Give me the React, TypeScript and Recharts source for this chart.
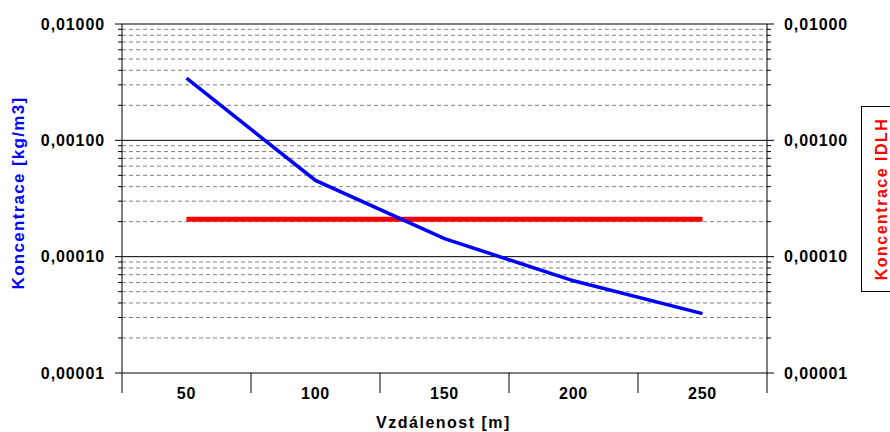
import React from 'react';
import { LineChart, Line, XAxis, YAxis, CartesianGrid, Label } from 'recharts';

const categories = [50, 100, 150, 200, 250];
const concentration = [0.00342, 0.000452, 0.000143, 0.000062, 0.0000324];
const idlhValues = [0.00021, 0.00021, 0.00021, 0.00021, 0.00021];
const yMajorTicks = [0.00001, 0.0001, 0.001, 0.01];
const yMinorTicks = [
  0.00002, 0.00003, 0.00004, 0.00005, 0.00006, 0.00007, 0.00008, 0.00009,
  0.0002, 0.0003, 0.0004, 0.0005, 0.0006, 0.0007, 0.0008, 0.0009,
  0.002, 0.003, 0.004, 0.005, 0.006, 0.007, 0.008, 0.009,
];
const xTicks = [25, 50, 75, 100, 125, 150, 175, 200, 225, 250, 275];
const xBoundaryTicks = [25, 75, 125, 175, 225, 275];
const xLabels = ['50', '100', '150', '200', '250'];
const yTickLabels = ['0,00001', '0,00010', '0,00100', '0,01000'];
const leftTitle = 'Koncentrace [kg/m3]';
const xTitle = 'Vzdálenost [m]';
const legendTitle = 'Koncentrace IDLH';

const data = categories.map((c, i) => ({ x: c, conc: concentration[i], idlh: idlhValues[i] }));
const allYTicks = [...yMajorTicks, ...yMinorTicks].sort((a, b) => a - b);

const FONT = '"Liberation Sans", Arial, sans-serif';

const isMajor = (v: number) => yMajorTicks.some((m) => Math.abs(m - v) / m < 1e-6);

const YTick = (props: any) => {
  const { x, y, payload, side } = props;
  const v = payload.value as number;
  const major = isMajor(v);
  const len = major ? 7 : 4;
  const dir = side === 'left' ? -1 : 1;
  const idx = yMajorTicks.findIndex((m) => Math.abs(m - v) / m < 1e-6);
  return (
    <g>
      <line x1={x} x2={x + dir * len} y1={y} y2={y} stroke="#000" strokeWidth={1} />
      {major && (
        <text
          x={x + dir * 17}
          y={y}
          dy="0.36em"
          textAnchor={side === 'left' ? 'end' : 'start'}
          fontFamily={FONT}
          fontWeight="bold"
          fontSize={16}
          letterSpacing={0.9}
          fill="#000"
        >
          {yTickLabels[idx]}
        </text>
      )}
    </g>
  );
};

const XTick = (props: any) => {
  const { x, y, payload } = props;
  const v = payload.value as number;
  if (xBoundaryTicks.includes(v)) {
    return <line x1={x} x2={x} y1={y} y2={y + 20} stroke="#000" strokeWidth={1} />;
  }
  const idx = categories.indexOf(v);
  return (
    <text
      x={x}
      y={y + 20}
      dy="0.36em"
      textAnchor="middle"
      fontFamily={FONT}
      fontWeight="bold"
      fontSize={16}
      letterSpacing={0.8}
      fill="#000"
    >
      {xLabels[idx]}
    </text>
  );
};

export default function App() {
  return (
    <div style={{ position: 'absolute', left: 0, top: 0, width: 890, height: 432, background: '#fff', overflow: 'hidden' }}>
      <LineChart width={890} height={432} data={data} margin={{ top: 24, right: 0, bottom: 0, left: 0 }}>
        <CartesianGrid
          yAxisId="left"
          vertical={false}
          horizontalValues={yMinorTicks}
          stroke="#808080"
          strokeDasharray="4 3"
        />
        <CartesianGrid
          yAxisId="left"
          vertical={false}
          horizontalValues={[0.0001, 0.001, 0.01]}
          stroke="#000"
        />
        <XAxis
          dataKey="x"
          type="number"
          domain={[25, 275]}
          ticks={xTicks}
          interval={0}
          height={59}
          tickSize={0}
          tickMargin={0}
          tickLine={false}
          axisLine={{ stroke: '#000' }}
          tick={<XTick />}
        >
          <Label
            content={(p: any) => {
              const vb = p.viewBox || {};
              return (
                <text
                  x={vb.x + vb.width / 2 - 1}
                  y={422}
                  dy="0.36em"
                  textAnchor="middle"
                  fontFamily={FONT}
                  fontWeight="bold"
                  fontSize={16}
                  letterSpacing={1.5}
                  fill="#000"
                >
                  {xTitle}
                </text>
              );
            }}
          />
        </XAxis>
        <YAxis
          yAxisId="left"
          orientation="left"
          type="number"
          scale="log"
          domain={[0.00001, 0.01]}
          allowDataOverflow
          ticks={allYTicks}
          interval={0}
          width={122}
          tickSize={0}
          tickMargin={0}
          tickLine={false}
          axisLine={{ stroke: '#000' }}
          tick={<YTick side="left" />}
        >
          <Label
            content={() => (
              <text
                x={18}
                y={193}
                transform="rotate(-90, 18, 193)"
                dy="0.36em"
                textAnchor="middle"
                fontFamily={FONT}
                fontWeight="bold"
                fontSize={17}
                letterSpacing={1.3}
                fill="#0000ff"
              >
                {leftTitle}
              </text>
            )}
          />
        </YAxis>
        <YAxis
          yAxisId="right"
          orientation="right"
          type="number"
          scale="log"
          domain={[0.00001, 0.01]}
          allowDataOverflow
          ticks={allYTicks}
          interval={0}
          width={123}
          tickSize={0}
          tickMargin={0}
          tickLine={false}
          axisLine={{ stroke: '#000' }}
          tick={<YTick side="right" />}
        />
        <Line
          yAxisId="left"
          type="linear"
          dataKey="idlh"
          stroke="#ff0000"
          strokeWidth={5}
          dot={false}
          activeDot={false}
          isAnimationActive={false}
          strokeLinecap="butt"
        />
        <Line
          yAxisId="left"
          type="linear"
          dataKey="conc"
          stroke="#0000ff"
          strokeWidth={3.5}
          dot={false}
          activeDot={false}
          isAnimationActive={false}
        />
      </LineChart>
      <div
        style={{
          position: 'absolute',
          left: 861,
          top: 106,
          width: 40,
          height: 186,
          border: '1px solid #000',
          background: '#fff',
          boxSizing: 'border-box',
        }}
      >
        <svg width={28} height={186} style={{ position: 'absolute', left: 0, top: 0 }}>
          <text
            x={19}
            y={92}
            transform="rotate(-90, 19, 92)"
            dy="0.36em"
            textAnchor="middle"
            fontFamily={FONT}
            fontWeight="bold"
            fontSize={16}
            letterSpacing={1.5}
            fill="#ff0000"
          >
            {legendTitle}
          </text>
        </svg>
      </div>
    </div>
  );
}
